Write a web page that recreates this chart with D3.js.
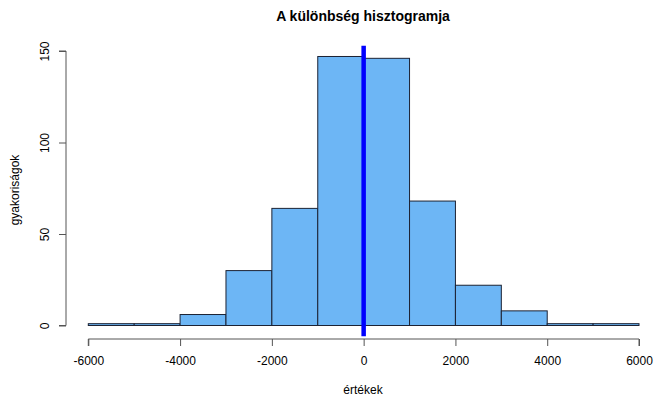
<!DOCTYPE html>
<html><head><meta charset="utf-8">
<script src="https://cdn.jsdelivr.net/npm/d3@7"></script>
<style>body{margin:0;background:#fff}svg{display:block;font-family:"Liberation Sans",Arial,sans-serif}</style>
</head><body><svg id="c" width="654" height="397"></svg>
<script>
const binStarts = [-6000,-5000,-4000,-3000,-2000,-1000,0,1000,2000,3000,4000,5000];
const binWidth = 1000;
const counts = [1,1,6,30,64,147,146,68,22,8,1,1];
const xTicks = [-6000,-4000,-2000,0,2000,4000,6000];
const yTicks = [0,50,100,150];
const meanLine = 0;
const title = "A különbség hisztogramja";
const xLabel = "értékek";
const yLabel = "gyakoriságok";

const svg = d3.select("#c");
const x = d3.scaleLinear().domain([-6000,6000]).range([88.3,639]);
const y = d3.scaleLinear().domain([0,150]).range([325.5,51]);
const yMax = d3.max(counts);
const yLo = -0.04*yMax, yHi = yMax*1.04;

svg.append("g").selectAll("rect").data(binStarts).join("rect")
  .attr("x", d=>x(d)).attr("width", d=>x(d+binWidth)-x(d))
  .attr("y", (d,i)=>y(counts[i])).attr("height",(d,i)=>y(0)-y(counts[i]))
  .attr("fill","#6db6f5").attr("stroke","#1c2233").attr("stroke-width",1);

svg.append("line").attr("x1",x(meanLine)).attr("x2",x(meanLine))
  .attr("y1",y(yHi)).attr("y2",y(yLo)).attr("stroke","#0000ff").attr("stroke-width",4.5);

const xa = svg.append("g").attr("transform","translate(0,339)")
  .call(d3.axisBottom(x).tickValues(xTicks).tickSize(7).tickPadding(10).tickFormat(d=>String(d)));
xa.selectAll("path,line").attr("stroke","#555");
xa.selectAll("text").attr("font-size",12).attr("fill","#000").attr("font-family","Liberation Sans, Arial");
xa.select(".domain").attr("d",`M${x(-6000)},7V0H${x(6000)}V7`);

const ya = svg.append("g").attr("transform","translate(66,0)")
  .call(d3.axisLeft(y).tickValues(yTicks).tickSize(7).tickPadding(0).tickFormat(d=>String(d)));
ya.selectAll("path,line").attr("stroke","#555");
ya.select(".domain").attr("d",`M-7,${y(0)}H0V${y(150)}H-7`);
ya.selectAll("text").attr("font-size",12).attr("fill","#000").attr("font-family","Liberation Sans, Arial")
  .attr("text-anchor","middle").attr("x",0).attr("y",0).attr("dy","0.35em")
  .attr("transform","translate(-21,0) rotate(-90)");

svg.append("text").attr("x",363).attr("y",21).attr("text-anchor","middle")
  .attr("font-size",14).attr("font-weight","bold").text(title);
svg.append("text").attr("x",363).attr("y",394).attr("text-anchor","middle")
  .attr("font-size",12).text(xLabel);
svg.append("text").attr("transform","translate(19,190) rotate(-90)").attr("text-anchor","middle")
  .attr("font-size",12).text(yLabel);
</script></body></html>
